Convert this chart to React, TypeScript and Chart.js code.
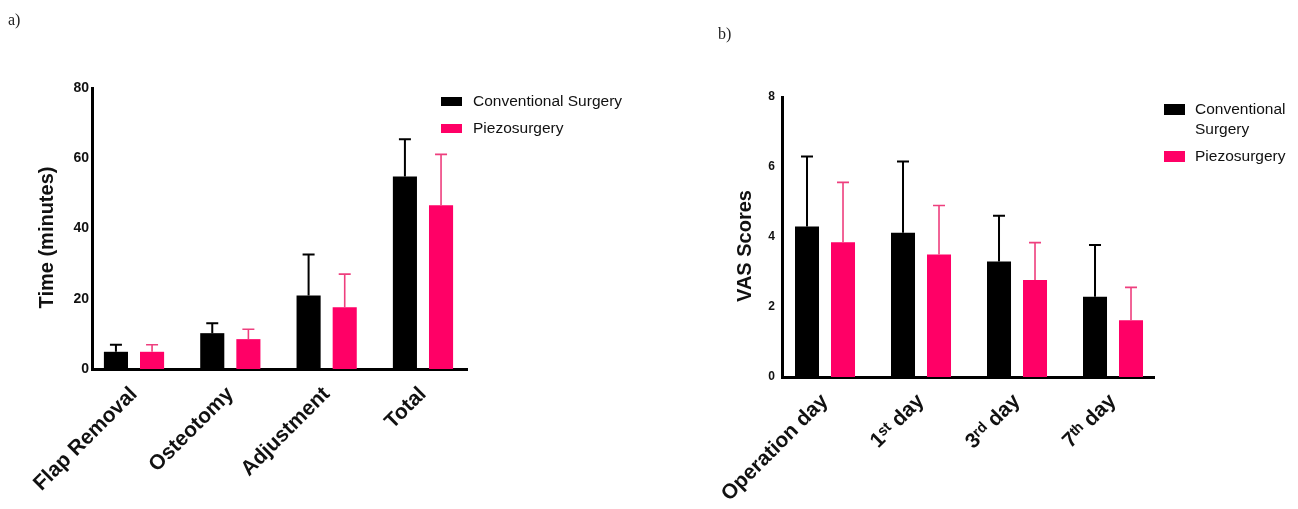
import React, { useEffect, useRef } from 'react';
import { Chart, registerables } from 'chart.js';

Chart.register(...registerables);

// ---------- Data ----------
const procedures = ['Flap Removal', 'Osteotomy', 'Adjustment', 'Total'];
const timeConventional = [4.9, 10.2, 20.9, 54.8];
const timeConventionalSD = [2.0, 2.8, 11.7, 10.6];
const timePiezo = [4.9, 8.5, 17.6, 46.6];
const timePiezoSD = [2.0, 2.8, 9.4, 14.5];
const timeTicks = [0, 20, 40, 60, 80];

const days = ['Operation day', '1ˢᵗ day', '3ʳᵈ day', '7ᵗʰ day'];
const vasConventional = [4.3, 4.12, 3.3, 2.29];
const vasConventionalSD = [2.0, 2.04, 1.31, 1.48];
const vasPiezo = [3.85, 3.5, 2.77, 1.62];
const vasPiezoSD = [1.71, 1.4, 1.07, 0.94];
const vasTicks = [0, 2, 4, 6, 8];

const seriesNames = ['Conventional Surgery', 'Piezosurgery'];

// ---------- Styles ----------
const SANS = '"Liberation Sans", Arial, Helvetica, sans-serif';
const BLACK = '#000000';
const PINK = '#FF0066';
const PINK_ERR = '#EE3F7E';
const TEXT = '#111111';

const errorBarsPlugin = {
  id: 'errorBars',
  afterDatasetsDraw(chart: any) {
    const { ctx } = chart;
    const yScale = chart.scales.y;
    chart.data.datasets.forEach((ds: any, i: number) => {
      const meta = chart.getDatasetMeta(i);
      ctx.save();
      ctx.strokeStyle = ds.errorColor;
      ctx.lineWidth = ds.errorWidth;
      meta.data.forEach((bar: any, j: number) => {
        const v = ds.data[j].y;
        const top = yScale.getPixelForValue(v + ds.errors[j]);
        const cap = ds.capWidth;
        ctx.beginPath();
        ctx.moveTo(bar.x, bar.y);
        ctx.lineTo(bar.x, top);
        ctx.moveTo(bar.x - cap / 2, top);
        ctx.lineTo(bar.x + cap / 2, top);
        ctx.stroke();
      });
      ctx.restore();
    });
  },
};

function wrapText(ctx: CanvasRenderingContext2D, text: string, maxWidth: number): string[] {
  const words = text.split(' ');
  const lines: string[] = [];
  let cur = '';
  words.forEach((w) => {
    const test = cur ? cur + ' ' + w : w;
    if (ctx.measureText(test).width > maxWidth && cur) {
      lines.push(cur);
      cur = w;
    } else {
      cur = test;
    }
  });
  if (cur) lines.push(cur);
  return lines;
}

const boxLegendPlugin = {
  id: 'boxLegend',
  afterDraw(chart: any, _args: any, o: any) {
    const { ctx, chartArea } = chart;
    ctx.save();
    ctx.font = `${o.fontSize}px ${SANS}`;
    ctx.textBaseline = 'middle';
    ctx.textAlign = 'left';
    chart.data.datasets.forEach((ds: any, i: number) => {
      const row = o.rows[i];
      ctx.fillStyle = ds.backgroundColor;
      ctx.fillRect(o.boxX, row.boxY, o.boxW, row.boxH);
      ctx.fillStyle = TEXT;
      const lines = wrapText(ctx, ds.label, o.maxWidth);
      lines.forEach((ln: string, k: number) => {
        ctx.fillText(ln, o.textX, row.textY + k * o.lineHeight);
      });
    });
    // y-axis title
    if (o.yTitle) {
      ctx.save();
      ctx.font = `bold ${o.yTitle.size}px ${SANS}`;
      ctx.fillStyle = TEXT;
      ctx.textAlign = 'center';
      ctx.textBaseline = 'middle';
      ctx.translate(o.yTitle.x, (chartArea.top + chartArea.bottom) / 2 + o.yTitle.shift);
      ctx.rotate(-Math.PI / 2);
      ctx.fillText(o.yTitle.text, 0, 0);
      ctx.restore();
    }
    if (o.panel) {
      ctx.font = `${o.panel.size}px "Liberation Serif", "Times New Roman", serif`;
      ctx.textBaseline = 'alphabetic';
      ctx.textAlign = 'left';
      ctx.fillStyle = '#222';
      ctx.fillText(o.panel.text, o.panel.x, o.panel.y);
    }
    ctx.restore();
  },
};

function buildConfig(p: any) {
  const mk = (values: number[]) => values.map((v, i) => ({ x: i, y: v }));
  return {
    type: 'bar',
    data: {
      datasets: [
        {
          label: seriesNames[0],
          data: mk(p.a),
          errors: p.aSD,
          backgroundColor: BLACK,
          errorColor: BLACK,
          errorWidth: 2,
          capWidth: 12,
          categoryPercentage: 0.75,
          barPercentage: 0.667,
        },
        {
          label: seriesNames[1],
          data: mk(p.b),
          errors: p.bSD,
          backgroundColor: PINK,
          errorColor: PINK_ERR,
          errorWidth: 1.6,
          capWidth: 12,
          categoryPercentage: 0.75,
          barPercentage: 0.667,
        },
      ],
    },
    options: {
      responsive: false,
      animation: false,
      devicePixelRatio: 1,
      layout: { padding: p.padding },
      plugins: {
        legend: { display: false },
        tooltip: { enabled: false },
        boxLegend: { ...p.legend, yTitle: { text: p.yTitle, size: 20, x: p.yTitleX, shift: 9 } },
      },
      scales: {
        x: {
          type: 'linear',
          min: p.xMin,
          max: p.xMax,
          offset: false,
          z: 1,
          grid: { display: false, drawTicks: false, offset: false },
          border: { display: true, color: BLACK, width: 3 },
          afterBuildTicks: (scale: any) => {
            scale.ticks = p.categories.map((_: string, i: number) => ({ value: i }));
          },
          afterFit: (scale: any) => {
            scale.height = p.xHeight;
          },
          ticks: {
            autoSkip: false,
            includeBounds: false,
            minRotation: 45,
            maxRotation: 45,
            padding: p.xTickPad,
            color: TEXT,
            font: { family: SANS, size: 21, weight: 'bold' },
            callback: (v: number) => p.categories[v] ?? '',
          },
        },
        y: {
          min: p.yTicks[0],
          max: p.yTicks[p.yTicks.length - 1],
          z: 1,
          grid: { display: false, drawTicks: false },
          border: { display: true, color: BLACK, width: 3 },
          afterBuildTicks: (scale: any) => {
            scale.ticks = p.yTicks.map((v: number) => ({ value: v }));
          },
          afterFit: (scale: any) => {
            scale.width = p.yWidth;
          },
          ticks: {
            padding: p.yTickPad,
            color: TEXT,
            font: { family: SANS, size: p.yTickSize, weight: 'bold' },
          },
          title: { display: false },
        },
      },
    },
    plugins: [errorBarsPlugin, boxLegendPlugin],
  };
}

const panelA = {
  categories: procedures,
  a: timeConventional,
  aSD: timeConventionalSD,
  b: timePiezo,
  bSD: timePiezoSD,
  yTicks: timeTicks,
  yTitle: 'Time (minutes)',
  yTitleX: 47,
  padding: { left: 0, top: 88, right: 183, bottom: 0 },
  yWidth: 92,
  xHeight: 140,
  xMin: -0.436,
  xMax: 3.457,
  xTickPad: 13,
  yTickPad: 3,
  yTickSize: 14,
  legend: {
    fontSize: 15.5,
    boxX: 441,
    boxW: 21,
    textX: 473,
    maxWidth: 220,
    lineHeight: 19,
    rows: [
      { boxY: 97, boxH: 9, textY: 101.5 },
      { boxY: 124, boxH: 9, textY: 128.5 },
    ],
    panel: { text: 'a)', x: 8, y: 25, size: 16 },
  },
};

const panelB = {
  categories: days,
  a: vasConventional,
  aSD: vasConventionalSD,
  b: vasPiezo,
  bSD: vasPiezoSD,
  yTicks: vasTicks,
  yTitle: 'VAS Scores',
  yTitleX: 95,
  padding: { left: 0, top: 97, right: 144, bottom: 0 },
  yWidth: 132,
  xHeight: 132,
  xMin: -0.448,
  xMax: 3.427,
  xTickPad: 12,
  yTickPad: 7,
  yTickSize: 12,
  legend: {
    fontSize: 15.5,
    boxX: 514,
    boxW: 21,
    textX: 545,
    maxWidth: 98,
    lineHeight: 19.5,
    rows: [
      { boxY: 104, boxH: 11, textY: 110 },
      { boxY: 151, boxH: 11, textY: 156.5 },
    ],
    panel: { text: 'b)', x: 68, y: 39, size: 16 },
  },
};

function Panel({ cfg, left, width }: { cfg: any; left: number; width: number }) {
  const ref = useRef<HTMLCanvasElement | null>(null);
  useEffect(() => {
    if (!ref.current) return;
    const chart = new Chart(ref.current, buildConfig(cfg) as any);
    return () => chart.destroy();
  }, [cfg]);
  return (
    <canvas
      ref={ref}
      width={width}
      height={509}
      style={{ position: 'absolute', left, top: 0, width, height: 509 }}
    />
  );
}

export default function App() {
  return (
    <div
      style={{
        position: 'absolute',
        left: 0,
        top: 0,
        width: 1298,
        height: 509,
        background: '#ffffff',
        overflow: 'hidden',
      }}
    >
      <Panel cfg={panelA} left={0} width={650} />
      <Panel cfg={panelB} left={650} width={648} />
    </div>
  );
}
